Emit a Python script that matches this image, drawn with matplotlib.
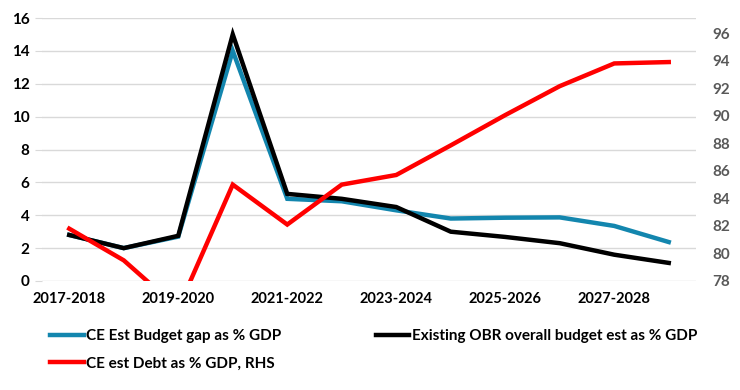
import matplotlib
matplotlib.use("Agg")
import matplotlib.pyplot as plt
import numpy as np

categories = ["2017-2018", "2018-2019", "2019-2020", "2020-2021", "2021-2022", "2022-2023",
              "2023-2024", "2024-2025", "2025-2026", "2026-2027", "2027-2028", "2028-2029"]
ce_budget_gap = [2.8, 2.0, 2.7, 14.0, 5.0, 4.85, 4.3, 3.8, 3.85, 3.87, 3.35, 2.37]
obr_budget = [2.8, 2.0, 2.75, 15.0, 5.3, 5.0, 4.5, 3.0, 2.68, 2.3, 1.6, 1.1]
ce_debt = [81.8, 79.5, 76.0, 85.0, 82.1, 85.0, 85.7, 87.85, 90.05, 92.15, 93.8, 93.9]

left_ticks = [0, 2, 4, 6, 8, 10, 12, 14, 16]
right_ticks = [78, 80, 82, 84, 86, 88, 90, 92, 94, 96]

plt.rcParams['font.family'] = ['Lato', 'DejaVu Sans']

fig = plt.figure(figsize=(7.4, 3.9), dpi=100)
ax = fig.add_axes([42/740, 1-281/390, 654/740, 263/390])
ax2 = ax.twinx()

x = np.arange(len(categories))
blue = '#1386AE'
l1, = ax.plot(x, ce_budget_gap, color=blue, lw=3.2, solid_joinstyle='miter', zorder=3,
              label='CE Est Budget gap as % GDP')
l2, = ax.plot(x, obr_budget, color='black', lw=3.2, solid_joinstyle='miter', zorder=4,
              label='Existing OBR overall budget est as % GDP')
l3, = ax2.plot(x, ce_debt, color='#FF0000', lw=3.2, solid_joinstyle='miter',
               label='CE est Debt as % GDP, RHS')

ax.set_xlim(-0.5, len(categories) - 0.5)
ax.set_ylim(0, 16)
ax.set_yticks(left_ticks)
ax2.set_ylim(78, 97.1)
ax2.set_yticks(right_ticks)

ax.set_xticks(x[::2])
ax.set_xticklabels(categories[::2])
ax.grid(axis='y', color='#D9D9D9', lw=1)
ax.set_axisbelow(True)

for a in (ax, ax2):
    for s in a.spines.values():
        s.set_visible(False)

ax.tick_params(axis='x', length=0, pad=8, labelsize=10.5)
ax.tick_params(axis='y', length=5, color='#D9D9D9', pad=4, labelsize=11)
ax2.tick_params(axis='y', length=0, pad=12, labelsize=11, labelcolor='#595959')
for lab in ax.get_xticklabels() + ax.get_yticklabels():
    lab.set_fontweight('bold')
for lab in ax2.get_yticklabels():
    lab.set_fontweight('bold')

fig.legend(handles=[l1, l3, l2], loc='upper left', bbox_to_anchor=(50/740, 1-329/390),
           ncol=2, frameon=False, handlelength=2.2, handletextpad=0.15,
           borderpad=0, borderaxespad=0,
           columnspacing=6.2, labelspacing=0.9, prop={'weight': 'bold', 'size': 11})

fig.savefig('out.png', dpi=100)
